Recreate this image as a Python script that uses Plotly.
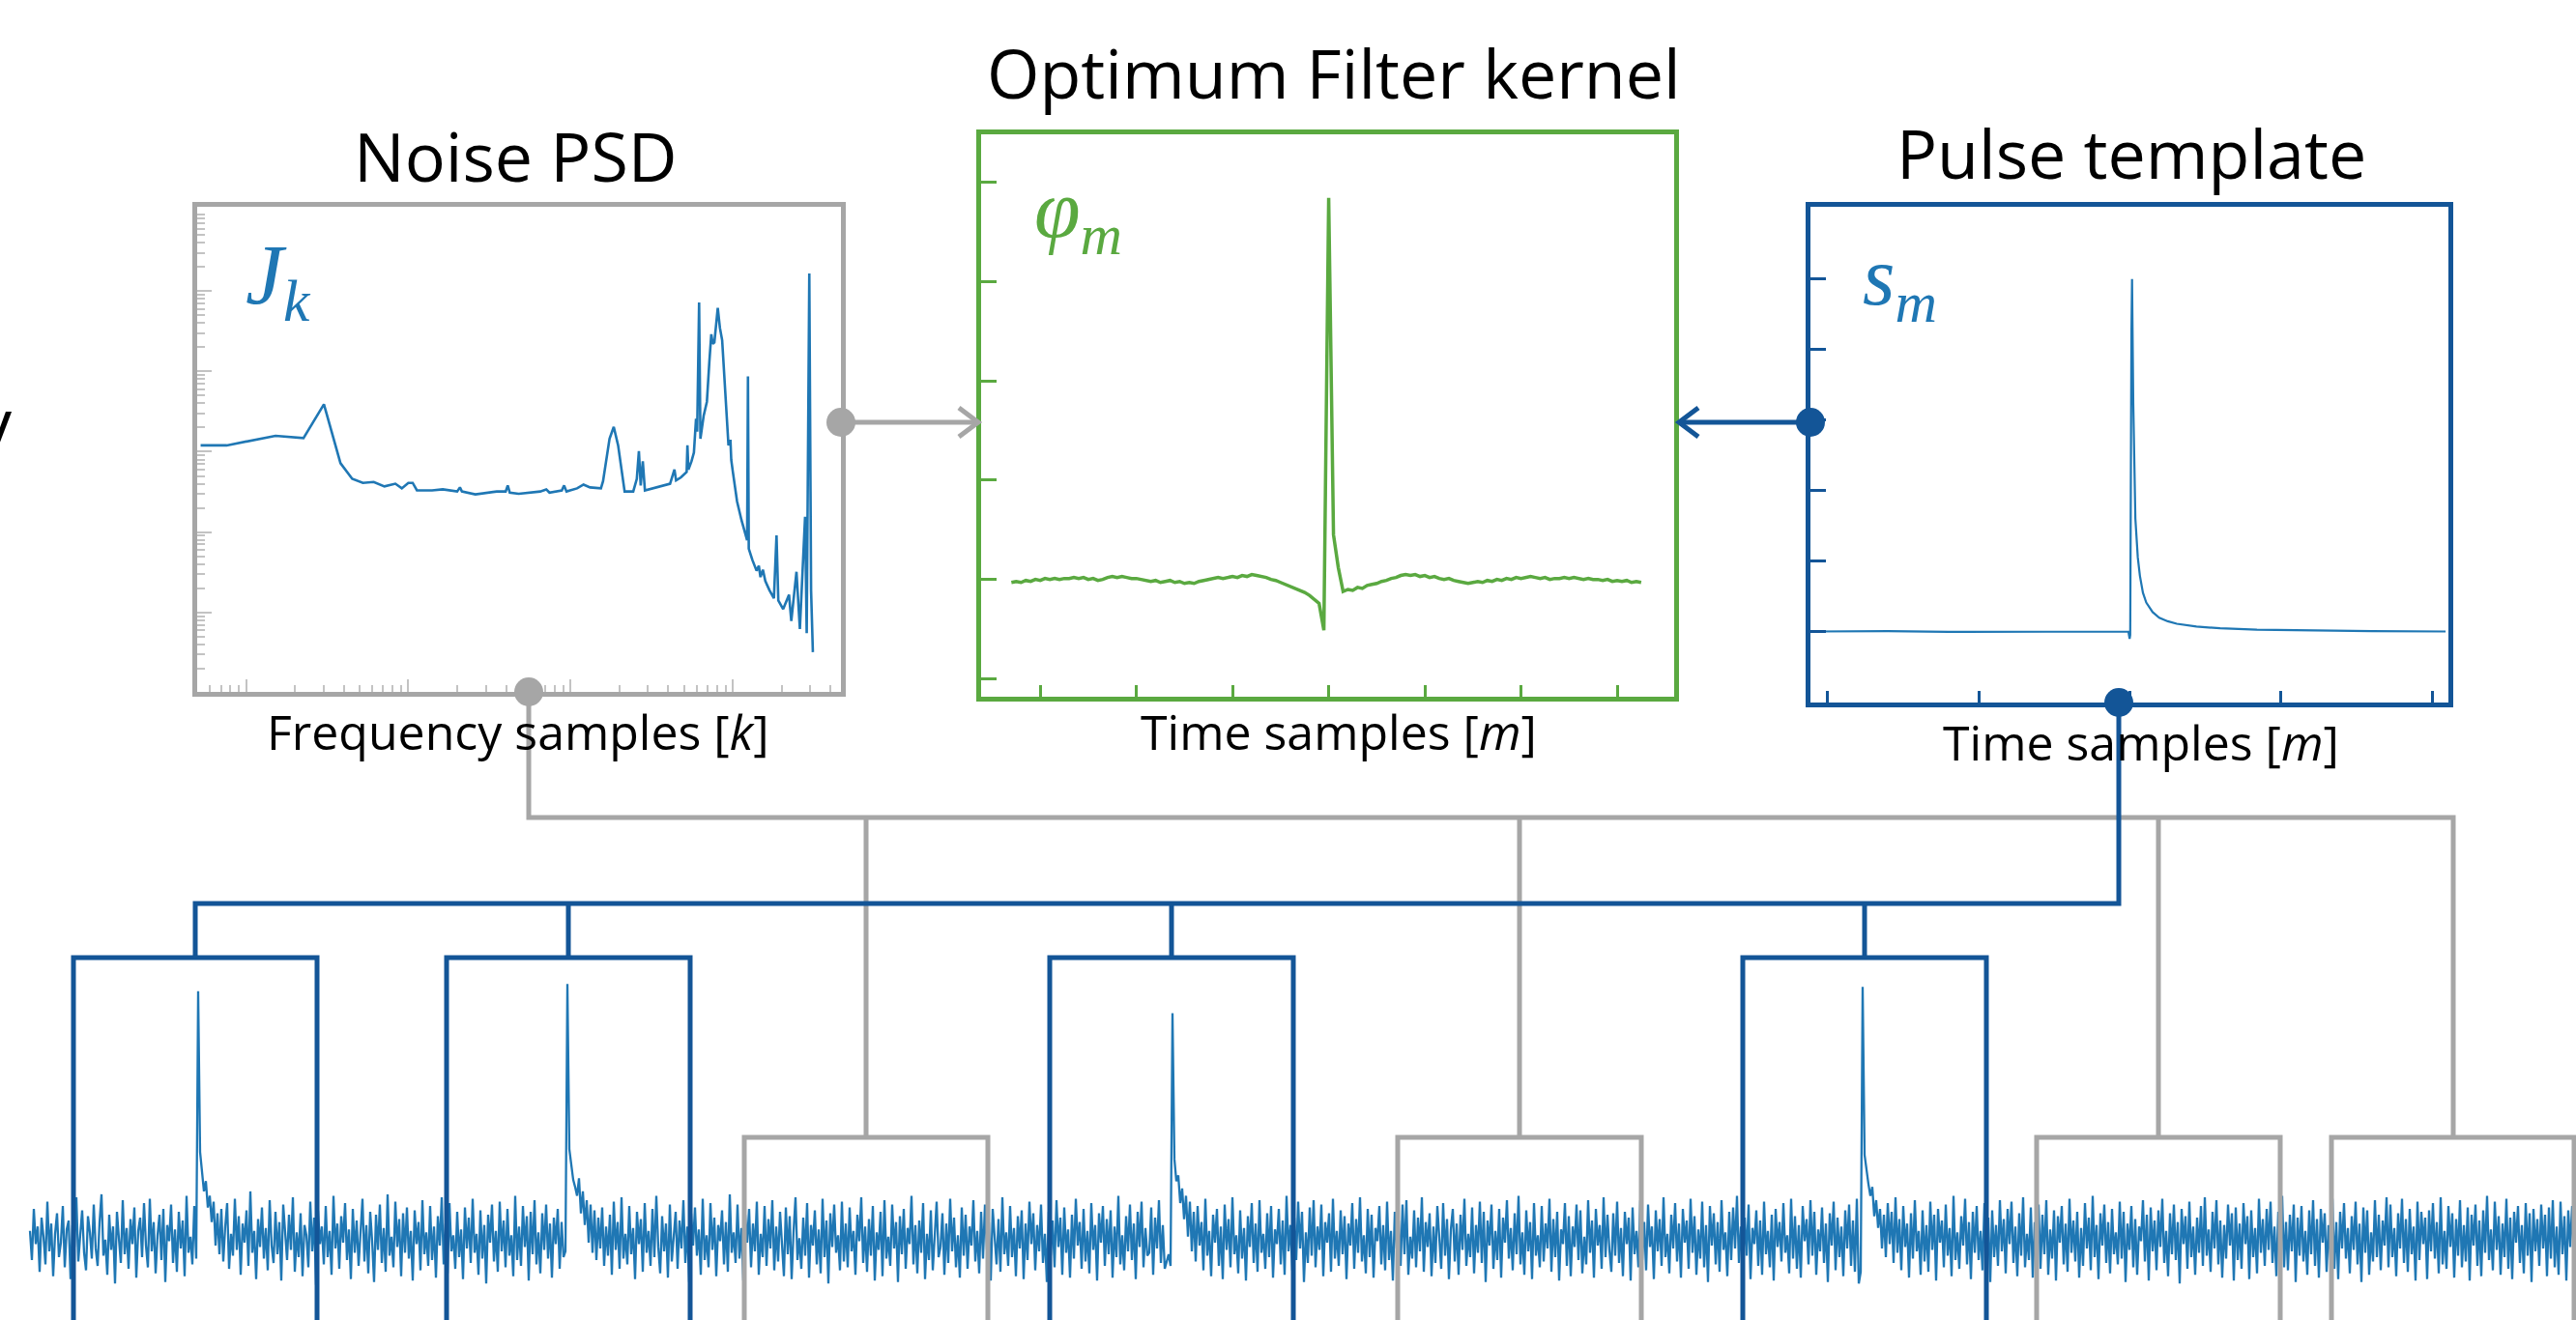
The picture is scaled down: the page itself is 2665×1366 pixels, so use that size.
import plotly.graph_objects as go

W, H = 2665, 1366

# ---------------- data ----------------
# Noise PSD J_k (frequency in Hz, PSD value)
psd_freq = [5.25, 7.6, 15.2, 22.6, 30.2, 38.2, 45.1, 52.5, 61.2, 71.3,
            83.2, 91.2, 100, 106.4, 113, 140, 163, 200, 208, 214,
            259, 351, 398, 410, 422, 479, 650, 708, 741, 883,
            912, 944, 1096, 1202, 1318, 1538, 1585, 1738, 1845, 1963,
            2153, 2432, 2559, 2636, 2704, 2786, 2871, 3420, 4102, 4365,
            4467, 4786, 5190, 5248, 5321, 5559, 5754, 5929, 6026, 6194,
            6310, 6607, 6918, 7161, 7362, 7516, 7691, 8072, 8318, 8590,
            9016, 9397, 9660, 9772, 10000, 10304, 10617, 11298, 12246, 12388,
            12531, 13183, 13996, 14454, 14791, 15311, 15849, 16788, 17906, 18578,
            19055, 20417, 22182, 22909, 24660, 25882, 27861, 28510, 29580, 30339,
            30690, 31117]
psd_val = [1.2e-8, 1.2e-8, 1.58e-8, 1.48e-8, 3.9e-8, 7.2e-9, 4.6e-9, 4.1e-9, 4.2e-9, 3.7e-9,
           4.0e-9, 3.5e-9, 4.1e-9, 4.1e-9, 3.3e-9, 3.3e-9, 3.4e-9, 3.2e-9, 3.6e-9, 3.2e-9,
           2.95e-9, 3.2e-9, 3.2e-9, 3.8e-9, 3.1e-9, 3.0e-9, 3.2e-9, 3.4e-9, 3.1e-9, 3.3e-9,
           3.8e-9, 3.2e-9, 3.5e-9, 3.9e-9, 3.6e-9, 3.5e-9, 4.3e-9, 1.45e-8, 2.04e-8, 1.2e-8,
           3.2e-9, 3.2e-9, 4.6e-9, 1.02e-8, 3.8e-9, 7.6e-9, 3.3e-9, 3.6e-9, 4.0e-9, 6.0e-9,
           4.4e-9, 4.8e-9, 5.6e-9, 1.2e-8, 6.0e-9, 7.6e-9, 9.8e-9, 2.57e-8, 1.78e-8, 7.2e-7,
           1.45e-8, 2.8e-8, 4.2e-8, 1.3e-7, 2.9e-7, 2.2e-7, 2.3e-7, 6.2e-7, 3.5e-7, 2.45e-7,
           5.6e-8, 1.2e-8, 1.41e-8, 7.9e-9, 5.6e-9, 3.8e-9, 2.4e-9, 1.41e-9, 7.9e-10, 8.7e-8,
           6.2e-10, 4.5e-10, 3.3e-10, 3.8e-10, 2.75e-10, 3.4e-10, 2.45e-10, 1.9e-10, 1.5e-10, 9.1e-10,
           1.41e-10, 1.1e-10, 1.66e-10, 7.8e-11, 3.2e-10, 6.2e-11, 1.55e-9, 5.5e-11, 1.66e-6, 1.86e-10,
           7.9e-11, 3.2e-11]

# Optimum filter kernel phi_m (time sample, value)
kernel_samples = list(range(-330, 326, 5))
kernel_values = [-0.03, -0.02, -0.03, -0.01, -0.02, 0.0, -0.01, 0.01, 0.0, 0.01, 0.0, 0.01, 0.01,
                 0.02, 0.01, 0.02, 0.0, 0.01, -0.01, 0.0, 0.02, 0.03, 0.02, 0.03, 0.02, 0.01,
                 0.01, 0.0, -0.01, -0.02, -0.01, -0.03, -0.02, -0.01, -0.03, -0.02, -0.04, -0.03, -0.04,
                 -0.02, -0.01, 0.0, 0.01, 0.02, 0.01, 0.02, 0.03, 0.02, 0.04, 0.03, 0.05, 0.04,
                 0.03, 0.02, 0.0, -0.01, -0.03, -0.05, -0.07, -0.09, -0.11, -0.13, -0.16, -0.2, -0.24,
                 -0.51, 3.84, 0.45, 0.12, -0.12,
                 -0.1, -0.11, -0.08, -0.09, -0.06, -0.05, -0.04, -0.02, -0.01, 0.01, 0.02, 0.04, 0.05,
                 0.04, 0.05, 0.03, 0.04, 0.02, 0.03, 0.01, 0.0, 0.01, -0.01, -0.02, -0.03, -0.04,
                 -0.03, -0.02, -0.03, -0.01, -0.02, 0.0, -0.01, 0.01, 0.0, 0.02, 0.01, 0.02, 0.03,
                 0.02, 0.01, 0.02, 0.0, 0.01, 0.01, 0.02, 0.01, 0.02, 0.01, 0.0, 0.01, 0.0,
                 0.0, -0.01, 0.0, -0.02, -0.01, -0.02, -0.01, -0.03, -0.02, -0.03]

# Pulse template s_m (time sample, normalised amplitude)
template_samples = [-1047, -800, -600, -400, -200, -50, -5, -1, 1, 5, 7, 11, 18, 26, 33, 43, 54,
                    75, 97, 125, 155, 220, 298, 420, 584, 800, 1044]
template_values = [0.0, 0.001, -0.001, 0.0, 0.001, 0.0, 0.0, -0.021, -0.01, 0.85, 1.0, 0.65, 0.32,
                   0.21, 0.158, 0.11, 0.082, 0.055, 0.039, 0.029, 0.022, 0.014, 0.009, 0.005,
                   0.0025, 0.001, 0.0]

# Continuous raw stream (amplitude per sample)
noise_values = [
    6, -14, 21, -3, 9, -22, 15, 2, -17, 26, -8, 11, -25, 4, 18, -12, -2, 23, -19, 7,
    13, -27, 10, -5, 29, -15, 3, 20, -9, -21, 16, 5, -13, 24, -6, -18, 12, 31, -11, 0,
    -24, 17, -7, 9, -30, 19, 1, -16, 27, -10, 8, -20, 14, -3, 22, -26, 6, 15, -12, 25,
    -4, -19, 28, -8, 12, -23, 3, 17, -14, 21, -29, 10, -1, 24, -16, 7, -22, 19, -6, 13,
    -25, 30, -9, 2, -17, 23, -13, 170, 60, 48, 33, 40, 22, 30, 12, 26, -4, 18, -10, 21,
    -15, 9, 25, -20, 4, -11, 28, -7, 16, -24, 11, -2, 20, -18, 33, -9, 6, -27, 14, -5,
    22, -13, 8, -21, 27, -4, -16, 19, -10, 12, -28, 24, 1, -14, 17, -7, 29, -22, 5, -12,
    18, -25, 10, 3, -19, 26, -8, 15, -31, 20, -3, 9, -17, 23, -12, 6, -24, 30, -6, 11,
    -20, 16, -2, 25, -14, 7, -27, 21, -9, 13, -18, 4, 28, -15, 10, -23, 19, -1, -29, 17,
    -7, 24, -16, 8, -22, 31, -11, 2, -19, 26, -5, 14, -25, 18, -9, 22, -13, 6, -28, 20,
    -3, 12, -21, 27, -10, 5, -18, 23, -14, 9, -26, 16, -4, 29, -17, 11, -23, 25, -8, 3,
    -20, 19, -12, 7, -27, 22, -6, 15, -16, 28, -9, 4, -24, 20, -13, 10, -30, 17, -2, 24,
    -15, 6, -22, 26, -8, 13, -19, 21, -11, 3, -25, 30, -14, 9, -18, 23, -5, 16, -28, 19,
    -10, 27, -17, 5, -23, 18, -7, 24, -13, 11, -26, 15, -3, 21, -20, 12, -12, -8, 175, 62,
    50, 41, 36, 30, 42, 18, 33, 10, 27, -2, 24, -9, 20, -14, 15, -6, 22, -18, 9, -11,
    17, -24, 26, -7, 12, -20, 29, -13, 4, -17, 23, -10, 8, -27, 19, -3, 14, -22, 25, -9,
    6, -18, 21, -12, 30, -5, -23, 16, -8, 11, -26, 24, -15, 2, 19, -20, 13, -6, 27, -16,
    9, -29, 18, -4, 22, -11, 7, -24, 28, -14, 3, -19, 25, -7, 15, -25, 10, -1, 20, -17,
    12, -22, 31, -9, 5, -16, 24, -13, 8, -28, 17, -2, 21, -19, 11, -8, 26, -24, 4, -12,
    23, -18, 14, -6, 27, -21, 9, -15, 19, -3, -25, 22, -10, 16, -27, 6, 29, -14, 1, -20,
    15, -11, 25, -26, 10, -4, 20, -17, 7, -23, 28, -12, 13, -30, 18, -5, 24, -9, 3, -21,
    26, -15, 11, -19, 22, -8, 6, -24, 17, -1, 29, -16, 9, -22, 14, -11, 23, -28, 5, -7,
    19, -25, 27, -13, 2, -18, 24, -6, 12, -29, 16, -10, 21, -20, 8, -3, 30, -17, 10, -23,
    13, -9, 25, -27, 4, -14, 20, -21, 7, 26, -12, -5, 18, -24, 11, -16, 28, -8, 15, -19,
    3, -26, 22, -11, 17, -20, 9, -4, 27, -15, 6, -23, 19, -13, 24, -7, 12, -28, 21, -2,
    -17, 14, -22, 29, -10, 5, -18, 23, -12, 8, -25, 16, -6, 20, -27, 11, -14, 26, -3, 18,
    -21, 10, -8, 24, -16, 4, -29, 19, -11, 13, -19, 27, -5, 15, -24, 22, -9, 7, -26, 17,
    -13, 28, -4, 12, -20, 21, -15, 6, -23, 25, -7, 10, -28, 18, -2, 23, -18, 14, -10, 20,
    -26, 9, -12, 30, -17, 3, -21, 16, -8, 24, -14, 11, -27, 19, -5, 26, -19, 8, -11, -9,
    22, -24, 15, -6, 27, -16, 10, -20, -14, -10, -18, 155, 55, 40, 44, 25, 35, 14, 30, 2,
    26, -8, 19, -15, 23, -4, 12, -21, 28, -11, 6, -25, 17, -2, 21, -18, 9, -27, 24, -7,
    14, -19, 29, -10, 3, -23, 20, -13, 8, -28, 16, -5, 25, -16, 11, -22, 27, -9, 4, -20,
    18, -12, 23, -26, 7, -3, 21, -17, 13, -24, 30, -8, 10, -21, 15, -14, 26, -6, 19, -29,
    5, -16, 22, -11, 27, -19, 9, -7, 24, -25, 12, -2, 18, -22, 28, -13, 6, -18, 20, -10,
    16, -27, 11, -4, 25, -20, 14, -9, 29, -15, 3, -23, 21, -12, 17, -26, 8, -1, 23, -17,
    10, -21, 26, -14, 6, -28, 19, -6, 13, -18, 24, -10, 27, -24, 2, -13, 20, -19, 15, -8,
    29, -22, 12, -5, 18, -25, 9, -16, 23, -3, -20, 25, -11, 14, -27, 7, 21, -15, 11, -24,
    17, -7, 28, -18, 4, -12, 22, -23, 10, -9, 26, -16, 19, -29, 13, -4, 24, -20, 6, -14,
    21, -26, 15, -2, 27, -13, 8, -21, 18, -10, 30, -17, 5, -24, 20, -8, 12, -27, 25, -11,
    3, -19, 23, -15, 11, -6, 28, -22, 14, -12, 19, -28, 7, -3, 25, -18, 16, -25, 9, -5,
    24, -14, 20, -23, 2, -17, 27, -9, 13, -26, 21, -4, 10, -20, 29, -12, 17, -7, -22, 18,
    -11, 26, -16, 8, -25, 19, -3, 15, -28, 22, -10, 6, -19, 27, -14, 12, -21, 24, -5, 9,
    -27, 20, -8, 14, -18, 29, -12, 4, -23, 17, -6, 25, -15, 11, -26, 21, -2, 13, -20, 28,
    -9, 16, -24, 7, -13, 26, -19, 10, -29, 23, -4, 18, -17, 12, -22, 27, -7, 5, -25, 19,
    -14, 22, -6, 30, -16, 9, -21, 15, -11, 24, -27, 8, -3, 20, -18, 13, -24, 26, -10, 6,
    -19, 17, -28, 21, -5, 12, -15, 25, -9, 3, -23, 28, -13, 16, -20, 10, -26, 23, -1, 14,
    -17, 27, -11, 19, -24, 7, -8, 22, -16, 11, -29, 18, -4, 26, -21, 15, -12, 9, -25, 20,
    -6, 24, -18, 13, -22, 28, -30, -22, 173, 58, 46, 38, 30, 36, 16, 27, 8, 21, -6, 17,
    -12, 25, -3, 19, -16, 29, -9, 14, -21, 23, -5, 11, -26, 18, -13, 27, -8, 6, -24, 20,
    -15, 10, -22, 26, -7, 17, -28, 21, -2, 13, -19, 24, -11, 8, -25, 30, -14, 5, -20, 16,
    -4, 28, -17, 12, -27, 19, -9, 23, -14, 6, -21, 25, -6, 15, -29, 20, -12, 10, -18, 27,
    -8, 14, -23, 21, -3, 26, -16, 9, -25, 18, -11, 29, -19, 4, -14, 22, -26, 12, -5, 24,
    -20, 17, -10, 27, -24, 7, -13, 20, -28, 16, -2, 23, -17, 11, -22, 28, -9, 13, -15, 19,
    -26, 8, -18, 25, -6, 15, -21, 30, -12, 10, -27, 18, -4, 24, -16, 12, -23, 21, -10, 5,
    -17, 26, -13, 19, -29, 11, -7, 23, -19, 14, -24, 9, -1, 27, -15, 17, -28, 22, -8, 13,
    -21, 20, -5, 28, -16, 6, -25, 18, -10, 24, -14, 12, -30, 21, -3, 16, -20, 26, -12, 9,
    -24, 15, -9, 23, -18, 29, -11, 7, -22, 19, -6, 27, -17, 13, -26, 10, -13, 24, -4, 18,
    -28, 22, -14, 11, -20, 25, -3, 16, -27, 20, -12, 8, -23, 28, -9, 14, -18, 21, -7, 26,
    -16, 9, -25, 19, -5, 30, -19, 12, -21, 17, -8, 24, -29, 15, -11, 23, -15, 6, -24, 20,
    -10, 27, -18, 14, -26, 21, -2, 18, -22, 10, -14, 28, -20, 12, -27, 19, -6, 25, -13, 8,
    -23, 16, -7, 26, -17, 11, -29, 22, -9, 20, -24, 5, -15, 27, -12, 17, -21, 13, -4, 29,
    -19, 24, -12, 8, -25, 18, -6, 28, -16, 14, -22, 21, -10, 9, -28, 26, -14, 19, -3, 15,
    -27, 20, -8, 25, -13, 12, -23, 29, -17, 6, -20, 23, -5, 18, -26, 14, -11, 27, -19, 10,
    -15, 22, -28, 17, -4, 24, -18, 13, -25, 20, -9, 30, -14, 7, -21, 26, -7, 16, -24, 11,
    -12, 28, -20, 15, -27, 19, -2, 23, -16, 10, -23, 25, -11, 18, -29, 21, -8, 14, -18, 24,
    -6, 17, -25, 22, -13, 27, -19, 9, -24, 26, -10, 16, -28, 20, -5, 23, -17, 12, -22, 19,
]
noise_samples = list(range(len(noise_values)))

# ---------------- styling / layout ----------------
GRAY = "#a6a6a6"
TICK_GRAY = "#c3c3c3"
DKBLUE = "#135597"
GREEN = "#5aa940"
LINE_BLUE = "#1f77b4"
FONT = "Open Sans"
MATH = "Liberation Serif"

PSD = (204, 214, 870, 716)     # left, top, right, bottom (px)
KER = (1015, 139, 1732, 721)
TPL = (1873, 214, 2533, 727)


def dom_x(l, r):
    return [l / W, r / W]


def dom_y(t, b):
    return [1 - b / H, 1 - t / H]


def log_minor(lo_exp, hi_exp, lo, hi):
    out = []
    for e in range(lo_exp, hi_exp + 1):
        for m in range(2, 10):
            v = m * 10.0 ** e
            if lo < v < hi:
                out.append(v)
    return out


fig = go.Figure()
fig.add_trace(go.Scatter(x=[None], y=[None], xaxis="x", yaxis="y", mode="lines"))
fig.add_trace(go.Scatter(x=noise_samples, y=noise_values, xaxis="x5", yaxis="y5", mode="lines",
                         line=dict(color=LINE_BLUE, width=2.3)))
fig.add_trace(go.Scatter(x=psd_freq, y=psd_val, xaxis="x2", yaxis="y2", mode="lines",
                         line=dict(color=LINE_BLUE, width=2.6)))
fig.add_trace(go.Scatter(x=kernel_samples, y=kernel_values, xaxis="x3", yaxis="y3", mode="lines",
                         line=dict(color=GREEN, width=3.5)))
fig.add_trace(go.Scatter(x=template_samples, y=template_values, xaxis="x4", yaxis="y4", mode="lines",
                         line=dict(color=LINE_BLUE, width=2.2)))


def box_axis(color, **kw):
    d = dict(showline=True, linecolor=color, linewidth=5, mirror=True, ticks="inside",
             showticklabels=False, showgrid=False, zeroline=False, fixedrange=True,
             tickmode="array")
    d.update(kw)
    return d


hidden = dict(visible=False, fixedrange=True, showgrid=False, zeroline=False)

layout = dict(
    width=W, height=H, margin=dict(l=0, r=0, t=0, b=0),
    paper_bgcolor="white", plot_bgcolor="rgba(0,0,0,0)",
    showlegend=False, hovermode=False,
    xaxis=dict(hidden, domain=[0, 1], range=[0, W], anchor="y"),
    yaxis=dict(hidden, domain=[0, 1], range=[H, 0], anchor="x"),
    xaxis2=box_axis(GRAY, type="log", domain=dom_x(PSD[0], PSD[2]), range=[0.699, 4.666],
                    anchor="y2", tickvals=[10, 100, 1000, 10000], ticklen=13, tickwidth=2,
                    tickcolor=TICK_GRAY,
                    minor=dict(ticks="inside", tickmode="array",
                               tickvals=log_minor(0, 4, 5.2, 46000), ticklen=7, tickwidth=2,
                               tickcolor=TICK_GRAY, showgrid=False)),
    yaxis2=box_axis(GRAY, type="log", domain=dom_y(PSD[1], PSD[3]), range=[-10.99, -4.95],
                    anchor="x2", tickvals=[1e-10, 1e-9, 1e-8, 1e-7, 1e-6], ticklen=15,
                    tickwidth=2, tickcolor=TICK_GRAY,
                    minor=dict(ticks="inside", tickmode="array",
                               tickvals=log_minor(-11, -5, 1.03e-11, 1.1e-5), ticklen=8,
                               tickwidth=2, tickcolor=TICK_GRAY, showgrid=False)),
    xaxis3=box_axis(GREEN, domain=dom_x(KER[0], KER[2]), range=[-361.5, 359.3], anchor="y3",
                    tickvals=[-300, -200, -100, 0, 100, 200, 300], ticklen=12, tickwidth=3,
                    tickcolor=GREEN),
    yaxis3=box_axis(GREEN, domain=dom_y(KER[1], KER[3]), range=[-1.18, 4.48], anchor="x3",
                    tickvals=[-1, 0, 1, 2, 3, 4], ticklen=16, tickwidth=3, tickcolor=GREEN),
    xaxis4=box_axis(DKBLUE, domain=dom_x(TPL[0], TPL[2]), range=[-1056.6, 1053.3], anchor="y4",
                    tickvals=[-1000, -500, 0, 500, 1000], ticklen=12, tickwidth=3,
                    tickcolor=DKBLUE),
    yaxis4=box_axis(DKBLUE, domain=dom_y(TPL[1], TPL[3]), range=[-0.2015, 1.2048], anchor="x4",
                    tickvals=[0, 0.2, 0.4, 0.6, 0.8, 1.0], ticklen=16, tickwidth=3,
                    tickcolor=DKBLUE),
    xaxis5=dict(hidden, domain=[0, 1], range=[-15.5, 1317], anchor="y5"),
    yaxis5=dict(hidden, domain=[0, 366 / H], range=[-55, 187], anchor="x5"),
)

# ---------------- connectors (diagram decorations, canvas px) ----------------
shapes = []


def seg(points, color, width=5):
    d = "M " + " L ".join(f"{x},{y}" for x, y in points)
    shapes.append(dict(type="path", path=d, xref="x", yref="y", layer="above",
                       line=dict(color=color, width=width)))


def dot(cx, cy, color, r=15):
    shapes.append(dict(type="circle", xref="x", yref="y", x0=cx - r, x1=cx + r, y0=cy - r,
                       y1=cy + r, fillcolor=color, line=dict(width=0), layer="above"))


# gray: noise PSD -> filter and -> noise-only windows
seg([(547, 716), (547, 846), (2538, 846), (2538, 1177)], GRAY)
for bx in [896, 1572, 2233]:
    seg([(bx, 846), (bx, 1177)], GRAY)
for l, r in [(770, 1022), (1446, 1698), (2107, 2359), (2412, 2663)]:
    seg([(l, 1420), (l, 1177), (r, 1177), (r, 1420)], GRAY)
# blue: pulse template -> pulse windows
seg([(2192, 727), (2192, 935), (202, 935), (202, 991)], DKBLUE)
for bx in [588, 1212, 1929]:
    seg([(bx, 935), (bx, 991)], DKBLUE)
for l, r in [(76, 328), (462, 714), (1086, 1338), (1803, 2055)]:
    seg([(l, 1420), (l, 991), (r, 991), (r, 1420)], DKBLUE)
# arrows into the filter panel
seg([(870, 437), (1011, 437)], GRAY)
seg([(992, 422), (1012, 437), (992, 452)], GRAY)
seg([(1873, 437), (1738, 437)], DKBLUE)
seg([(1757, 422), (1737, 437), (1757, 452)], DKBLUE)
dot(870, 437, GRAY)
dot(547, 716, GRAY)
dot(1873, 437, DKBLUE)
dot(2192, 727, DKBLUE)

# ---------------- text ----------------
annotations = []


def txt(s, x, y, size, color="black", family=FONT, xanchor="center", yanchor="middle"):
    annotations.append(dict(text=s, x=x, y=y, xref="x", yref="y", showarrow=False,
                            xanchor=xanchor, yanchor=yanchor,
                            font=dict(family=family, size=size, color=color)))


txt("Noise PSD", 533, 161, 70)
txt("Optimum Filter kernel", 1380, 75, 70)
txt("Pulse template", 2205, 158, 70)
txt("Frequency samples [<i>k</i>]", 535, 757, 50)
txt("Time samples [<i>m</i>]", 1385, 757, 50)
txt("Time samples [<i>m</i>]", 2215, 768, 50)
txt("<i>J</i><sub><i>k</i></sub>", 252, 290, 88, LINE_BLUE, MATH, xanchor="left")
txt("<i>φ</i><sub><i>m</i></sub>", 1068, 222, 86, GREEN, MATH, xanchor="left")
txt("<i>s</i><sub><i>m</i></sub>", 1925, 292, 86, LINE_BLUE, MATH, xanchor="left")
txt("y", 15, 436, 70, xanchor="right")

layout["shapes"] = shapes
layout["annotations"] = annotations
fig.update_layout(**layout)
fig.write_html("out.html", config={"displayModeBar": False},
               post_script="document.body.style.margin='0';document.body.style.overflow='hidden';")
